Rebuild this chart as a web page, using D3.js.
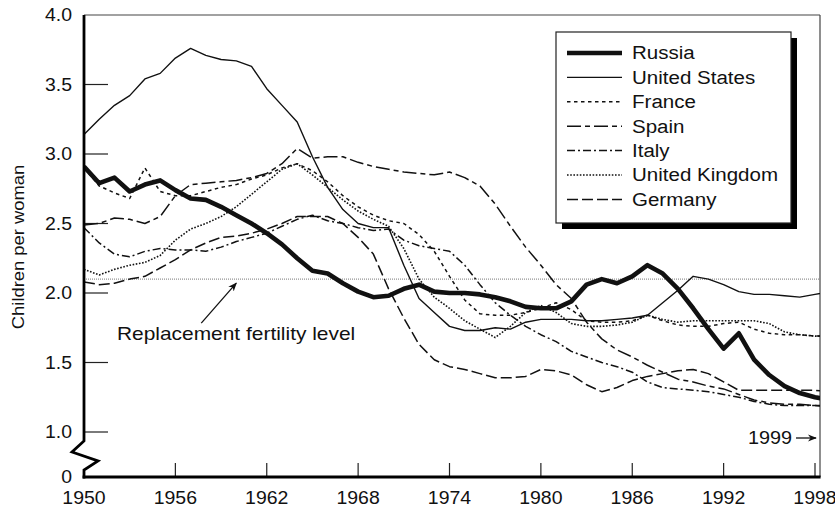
<!DOCTYPE html>
<html><head><meta charset="utf-8">
<script src="https://cdn.jsdelivr.net/npm/d3@7"></script>
<style>
body{margin:0;background:#fff}
svg{display:block}
text{font-family:"Liberation Sans",Arial,Helvetica,sans-serif;fill:#111}
</style>
</head><body>
<svg id="c" width="835" height="512"></svg>
<script>
// ---------- data ----------
const years = [1950,1951,1952,1953,1954,1955,1956,1957,1958,1959,
  1960,1961,1962,1963,1964,1965,1966,1967,1968,1969,
  1970,1971,1972,1973,1974,1975,1976,1977,1978,1979,
  1980,1981,1982,1983,1984,1985,1986,1987,1988,1989,
  1990,1991,1992,1993,1994,1995,1996,1997,1998,1999];

const russia = [2.91,2.79,2.83,2.73,2.78,2.81,2.74,2.68,2.67,2.62,
  2.56,2.50,2.43,2.35,2.25,2.16,2.14,2.07,2.01,1.97,
  1.98,2.03,2.06,2.01,2.00,2.00,1.99,1.97,1.94,1.90,
  1.89,1.89,1.94,2.06,2.10,2.07,2.12,2.20,2.14,2.03,
  1.89,1.74,1.60,1.71,1.52,1.41,1.33,1.28,1.25,1.23];

const unitedStates = [3.14,3.25,3.35,3.42,3.54,3.58,3.69,3.76,3.71,3.68,
  3.67,3.63,3.47,3.35,3.23,2.98,2.76,2.60,2.50,2.47,
  2.47,2.20,1.96,1.86,1.76,1.73,1.73,1.75,1.74,1.79,
  1.81,1.81,1.81,1.80,1.80,1.81,1.82,1.84,1.93,2.02,
  2.12,2.10,2.06,2.01,1.99,1.99,1.98,1.97,1.99,2.01];

const france = [2.90,2.77,2.72,2.68,2.90,2.73,2.70,2.70,2.73,2.76,
  2.78,2.82,2.85,2.90,2.93,2.88,2.80,2.70,2.62,2.56,
  2.52,2.50,2.42,2.30,2.12,1.95,1.85,1.84,1.84,1.86,
  1.89,1.93,1.88,1.80,1.79,1.79,1.80,1.84,1.80,1.77,
  1.76,1.76,1.78,1.79,1.74,1.71,1.70,1.70,1.69,1.69];

const spain = [2.49,2.50,2.54,2.53,2.50,2.55,2.70,2.78,2.79,2.80,
  2.81,2.83,2.86,2.93,3.04,2.97,2.98,2.98,2.94,2.91,
  2.89,2.87,2.86,2.85,2.87,2.83,2.77,2.64,2.48,2.33,
  2.20,2.06,1.96,1.79,1.67,1.59,1.54,1.48,1.43,1.38,
  1.36,1.33,1.31,1.27,1.23,1.21,1.20,1.20,1.19,1.19];

const italy = [2.47,2.36,2.28,2.26,2.30,2.32,2.31,2.31,2.30,2.33,
  2.37,2.40,2.43,2.48,2.53,2.56,2.52,2.50,2.47,2.45,
  2.46,2.38,2.34,2.32,2.30,2.20,2.06,1.93,1.84,1.76,
  1.70,1.65,1.58,1.54,1.50,1.47,1.43,1.36,1.32,1.31,
  1.30,1.29,1.27,1.25,1.22,1.20,1.19,1.19,1.19,1.18];

const unitedKingdom = [2.17,2.13,2.17,2.20,2.22,2.27,2.38,2.46,2.50,2.55,
  2.62,2.71,2.80,2.89,2.93,2.85,2.76,2.67,2.59,2.53,
  2.48,2.32,2.10,1.97,1.89,1.80,1.74,1.68,1.76,1.86,
  1.91,1.86,1.78,1.76,1.76,1.77,1.79,1.84,1.81,1.79,
  1.80,1.80,1.80,1.80,1.80,1.78,1.72,1.70,1.69,1.69];

const germany = [2.08,2.06,2.07,2.10,2.12,2.18,2.24,2.31,2.36,2.40,
  2.41,2.43,2.46,2.50,2.55,2.55,2.55,2.50,2.40,2.28,
  2.03,1.82,1.63,1.52,1.47,1.45,1.42,1.39,1.39,1.40,
  1.45,1.44,1.41,1.34,1.29,1.32,1.37,1.40,1.42,1.44,
  1.45,1.42,1.36,1.30,1.30,1.30,1.30,1.30,1.30,1.29];

const seriesNames = ["Russia","United States","France","Spain","Italy","United Kingdom","Germany"];
const seriesValues = [russia, unitedStates, france, spain, italy, unitedKingdom, germany];

const xTicks = [1950,1956,1962,1968,1974,1980,1986,1992,1998];
const yTicks = [0,1.0,1.5,2.0,2.5,3.0,3.5,4.0];
const replacementLevel = 2.1;

// ---------- styles ----------
const styles = {
  "Russia":         {w:4.6, dash:null},
  "United States":  {w:1.4, dash:null},
  "France":         {w:1.5, dash:"3.5,3.5"},
  "Spain":          {w:1.5, dash:"14,4,5,4"},
  "Italy":          {w:1.5, dash:"8,3,2,3"},
  "United Kingdom": {w:1.6, dash:"1.6,1.6"},
  "Germany":        {w:1.5, dash:"11,4"}
};

// widen text horizontally (reference font is a wide grotesque)
function widen(sel, k){
  sel.each(function(){
    const n = this.getComputedTextLength();
    this.setAttribute("textLength", (n*k).toFixed(1));
    this.setAttribute("lengthAdjust","spacingAndGlyphs");
  });
}

// ---------- layout ----------
const svg = d3.select("#c");
const L = 84, R = 820, T = 15, B = 477;
const x = d3.scaleLinear().domain([1950,1998]).range([84,815]);
const y = d3.scaleLinear().domain([0,1,4]).range([B,432,T]);

const defs = svg.append("defs");
defs.append("clipPath").attr("id","clip")
  .append("rect").attr("x",L).attr("y",T).attr("width",R-L).attr("height",B-T);
defs.append("marker").attr("id","ah")
  .attr("viewBox","0 0 10 10").attr("refX",9).attr("refY",5)
  .attr("markerWidth",9).attr("markerHeight",9).attr("orient","auto")
  .attr("markerUnits","userSpaceOnUse")
  .append("path").attr("d","M0,1 L10,5 L0,9 L3,5 Z").attr("fill","#111");

// frame: top and right thin
svg.append("line").attr("x1",L).attr("x2",R).attr("y1",T).attr("y2",T)
  .attr("stroke","#444").attr("stroke-width",1.2);
svg.append("line").attr("x1",R).attr("x2",R).attr("y1",T).attr("y2",B)
  .attr("stroke","#444").attr("stroke-width",1.2);

// replacement level line
svg.append("line").attr("x1",L).attr("x2",R)
  .attr("y1",y(replacementLevel)).attr("y2",y(replacementLevel))
  .attr("stroke","#777").attr("stroke-width",1).attr("stroke-dasharray","1,1");

// y ticks (inner)
yTicks.filter(d=>d>=1 && d<4).forEach(d=>{
  svg.append("line").attr("x1",L).attr("x2",L+24).attr("y1",y(d)).attr("y2",y(d))
    .attr("stroke","#222").attr("stroke-width",1.2);
});
// y tick labels
svg.selectAll("text.yt").data(yTicks).enter().append("text")
  .attr("class","yt").attr("x",72).attr("y",d=>y(d)).attr("dy","0.36em")
  .attr("text-anchor","end").attr("font-size",18)
  .text(d=> d===0 ? "0" : d3.format(".1f")(d))
  .call(widen,1.08);

// x ticks (inner)
xTicks.filter(d=>d>1950).forEach(d=>{
  svg.append("line").attr("x1",x(d)).attr("x2",x(d)).attr("y1",B).attr("y2",B-14)
    .attr("stroke","#222").attr("stroke-width",1.2);
});
svg.selectAll("text.xt").data(xTicks).enter().append("text")
  .attr("class","xt").attr("x",d=>x(d)).attr("y",504)
  .attr("text-anchor","middle").attr("font-size",18).text(d=>d)
  .call(widen,1.08);

// y axis label
svg.append("text").attr("transform","translate(24,247) rotate(-90)")
  .attr("text-anchor","middle").attr("font-size",17).text("Children per woman")
  .call(widen,1.08);

// lines
const line = d3.line().x((d,i)=>x(years[i])).y(d=>y(d)).curve(d3.curveLinear);
const g = svg.append("g").attr("clip-path","url(#clip)");
const order = [1,2,3,4,5,6,0];
order.forEach(i=>{
  const st = styles[seriesNames[i]];
  g.append("path").datum(seriesValues[i]).attr("d",line)
    .attr("fill","none").attr("stroke","#111")
    .attr("stroke-width",st.w).attr("stroke-linejoin","round")
    .attr("stroke-dasharray",st.dash);
});

// left axis (thick) with break
svg.append("path")
  .attr("d",`M${L},${T} L${L},${y(1)+9} L${L-12},${y(1)+20} L${L+14},${y(1)+29} L${L},${y(1)+38} L${L},${B+1.5}`)
  .attr("fill","none").attr("stroke","#000").attr("stroke-width",2.8).attr("stroke-linejoin","miter");
// bottom axis (thick)
svg.append("line").attr("x1",L-1.4).attr("x2",R+0.6).attr("y1",B).attr("y2",B)
  .attr("stroke","#000").attr("stroke-width",3);

// replacement label + arrow
svg.append("text").attr("x",117).attr("y",340).attr("font-size",18.5)
  .text("Replacement fertility level").call(widen,1.13);
svg.append("line").attr("x1",x(1957.7)).attr("y1",y(replacementLevel)+44)
  .attr("x2",x(1960)).attr("y2",y(replacementLevel)+4)
  .attr("stroke","#111").attr("stroke-width",1.3).attr("marker-end","url(#ah)");

// 1999 arrow label
svg.append("text").attr("x",792).attr("y",438).attr("dy","0.36em")
  .attr("text-anchor","end").attr("font-size",18).text("1999").call(widen,1.1);
svg.append("line").attr("x1",796).attr("x2",816).attr("y1",438).attr("y2",438)
  .attr("stroke","#111").attr("stroke-width",1.3).attr("marker-end","url(#ah)");

// legend
const lg = svg.append("g");
lg.append("rect").attr("x",562).attr("y",38).attr("width",235).attr("height",191).attr("fill","#000");
lg.append("rect").attr("x",556).attr("y",32).attr("width",235).attr("height",191)
  .attr("fill","#fff").attr("stroke","#222").attr("stroke-width",1.2);
seriesNames.forEach((n,i)=>{
  const yy = 53 + i*24.4;
  const st = styles[n];
  lg.append("line").attr("x1",567).attr("x2",622).attr("y1",yy).attr("y2",yy)
    .attr("stroke","#111").attr("stroke-width",st.w).attr("stroke-dasharray",st.dash);
  lg.append("text").attr("x",632).attr("y",yy).attr("dy","0.36em")
    .attr("font-size",18).text(n).call(widen,1.14);
});
</script>
</body></html>
